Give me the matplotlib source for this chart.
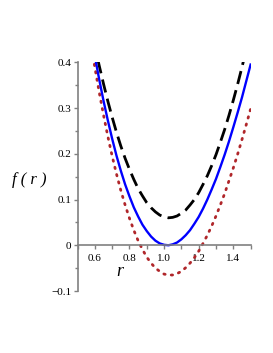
import matplotlib
matplotlib.use("Agg")
import matplotlib.pyplot as plt
from matplotlib.ticker import FixedLocator, FuncFormatter

# Data (r step 0.025)
r = [0.550, 0.575, 0.600, 0.625, 0.650, 0.675, 0.700, 0.725, 0.750, 0.775,
     0.800, 0.825, 0.850, 0.875, 0.900, 0.925, 0.950, 0.975, 1.000, 1.025,
     1.050, 1.075, 1.100, 1.125, 1.150, 1.175, 1.200, 1.225, 1.250, 1.275,
     1.300, 1.325, 1.350, 1.375, 1.400, 1.425, 1.450, 1.475, 1.500]
f_solid = [0.526, 0.468, 0.413, 0.363, 0.316, 0.273, 0.233, 0.196, 0.163, 0.133,
           0.107, 0.083, 0.063, 0.045, 0.031, 0.019, 0.010, 0.004, 0.001, 0.000,
           0.002, 0.006, 0.013, 0.022, 0.033, 0.047, 0.062, 0.080, 0.100, 0.122,
           0.145, 0.171, 0.198, 0.227, 0.258, 0.290, 0.323, 0.359, 0.395]
f_dash = [0.531, 0.483, 0.436, 0.393, 0.353, 0.315, 0.280, 0.247, 0.217, 0.190,
          0.166, 0.144, 0.124, 0.108, 0.093, 0.082, 0.073, 0.066, 0.062, 0.060,
          0.061, 0.064, 0.070, 0.077, 0.088, 0.100, 0.115, 0.133, 0.152, 0.174,
          0.198, 0.225, 0.253, 0.284, 0.317, 0.352, 0.389, 0.429, 0.470]
f_dot = [0.509, 0.447, 0.389, 0.335, 0.285, 0.238, 0.195, 0.156, 0.120, 0.088,
         0.059, 0.033, 0.010, -0.009, -0.026, -0.039, -0.050, -0.057, -0.063, -0.065,
         -0.065, -0.062, -0.057, -0.049, -0.039, -0.027, -0.013, 0.004, 0.022, 0.042,
         0.064, 0.088, 0.113, 0.141, 0.169, 0.199, 0.231, 0.264, 0.298]

x_major = [0.6, 0.8, 1.0, 1.2, 1.4]
x_minor = [0.5, 0.7, 0.9, 1.1, 1.3, 1.5]
y_major = [-0.1, 0, 0.1, 0.2, 0.3, 0.4]
y_minor = [-0.05, 0.05, 0.15, 0.25, 0.35]

fig = plt.figure(figsize=(2.73, 3.53), dpi=100)
ax = fig.add_axes([0.284, 0.1756, 0.634, 0.648])

ax.plot(r, f_dot, color="#b0262a", lw=2.0, linestyle=(0, (0.5, 2.2)), dash_capstyle="round")
ax.plot(r, f_dash, color="black", lw=2.0, linestyle=(0, (4.8, 2.3)))
ax.plot(r, f_solid, color="blue", lw=1.7)

ax.set_xlim(0.5, 1.5)
ax.set_ylim(-0.1, 0.4)

for s in ["top", "right"]:
    ax.spines[s].set_visible(False)
ax.spines["bottom"].set_position(("data", 0))
for s in ["left", "bottom"]:
    ax.spines[s].set_color("#808080")
    ax.spines[s].set_linewidth(1.2)

ax.xaxis.set_major_locator(FixedLocator(x_major))
ax.xaxis.set_minor_locator(FixedLocator(x_minor))
ax.yaxis.set_major_locator(FixedLocator(y_major))
ax.yaxis.set_minor_locator(FixedLocator(y_minor))

def yfmt(v, pos):
    if abs(v) < 1e-9:
        return "0"
    s = f"{v:.1f}"
    return s.replace("-", "\u2212")

ax.yaxis.set_major_formatter(FuncFormatter(yfmt))
ax.xaxis.set_major_formatter(FuncFormatter(lambda v, p: f"{v:.1f}"))

ax.tick_params(which="both", direction="out", color="#808080", width=1.0)
ax.tick_params(axis="x", which="major", length=3, pad=3, labelsize=8)
ax.tick_params(axis="x", which="minor", length=3)
ax.tick_params(axis="y", which="major", length=3, pad=1.5, labelsize=8)
ax.tick_params(axis="y", which="minor", length=2)
for lab in ax.get_xticklabels() + ax.get_yticklabels():
    lab.set_fontfamily("Liberation Serif")

fig.text(29 / 273, 1 - 180 / 353, "f ( r )", fontsize=12, family="Liberation Serif",
         style="italic", ha="center", va="center")
fig.text(120 / 273, 1 - 271 / 353, "r", fontsize=13, family="Liberation Serif",
         style="italic", ha="center", va="center")

fig.savefig("out.png", dpi=100)
